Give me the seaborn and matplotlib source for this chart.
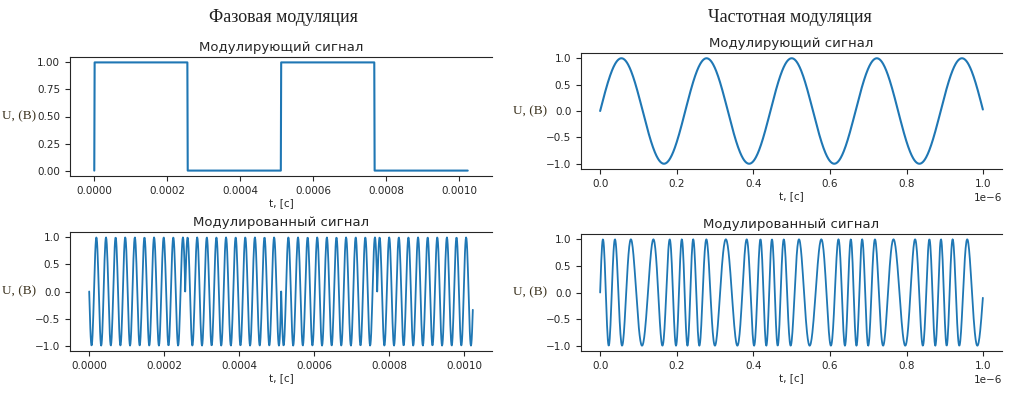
import numpy as np
import matplotlib
matplotlib.use("Agg")
import matplotlib.pyplot as plt
import seaborn as sns

# === Параметры фазовой модуляции ===
fs_pm = 1e6              # частота дискретизации, Гц
bit_len = 256            # отсчётов на бит
bits = [1, 0, 1, 0]      # модулирующая последовательность
f_carrier_pm = 39e3      # несущая, Гц

# === Параметры частотной модуляции ===
fs_fm = 1e9
n_fm = 1000
f_mod_fm = 4.5e6         # модулирующий сигнал, Гц
f_carrier_fm = 25e6      # несущая, Гц
beta_fm = 2.0            # индекс модуляции

# === Сигналы ===
t_pm = np.arange(len(bits) * bit_len) / fs_pm
tau_pm = np.tile(np.arange(bit_len) / fs_pm, len(bits))
m_pm = np.repeat(bits, bit_len).astype(float) * (t_pm > 0)
s_pm = np.sin(2 * np.pi * f_carrier_pm * tau_pm + np.pi * m_pm)

t_fm = np.arange(n_fm) / fs_fm
m_fm = np.sin(2 * np.pi * f_mod_fm * t_fm)
s_fm = np.sin(2 * np.pi * f_carrier_fm * t_fm + beta_fm * m_fm)

# === Оформление ===
sns.set_style("ticks")
plt.rcParams['font.family'] = ['DejaVu Sans']
plt.rcParams['xtick.labelsize'] = 7.5
plt.rcParams['ytick.labelsize'] = 7.5
plt.rcParams['axes.titlesize'] = 9.5
plt.rcParams['axes.labelsize'] = 7.5

blue = '#1f77b4'
label_color = '#3d3420'
serif = ['Liberation Serif', 'DejaVu Serif']

fig = plt.figure(figsize=(10.24, 3.98), dpi=100)

W, H = 1024, 398
def box(x0, x1, y0, y1):
    return [x0 / W, 1 - y1 / H, (x1 - x0) / W, (y1 - y0) / H]

ax_pm_m = fig.add_axes(box(70, 492, 57, 176))
ax_pm_s = fig.add_axes(box(70, 492, 232, 351))
ax_fm_m = fig.add_axes(box(581, 1002, 53, 169))
ax_fm_s = fig.add_axes(box(581, 1002, 234, 351))

sns.lineplot(x=t_pm, y=m_pm, ax=ax_pm_m, color=blue, linewidth=1.5)
sns.lineplot(x=t_pm, y=s_pm, ax=ax_pm_s, color=blue, linewidth=1.3)
sns.lineplot(x=t_fm, y=m_fm, ax=ax_fm_m, color=blue, linewidth=1.5)
sns.lineplot(x=t_fm, y=s_fm, ax=ax_fm_s, color=blue, linewidth=1.3)

ax_pm_m.margins(x=0.065)
ax_pm_m.set_yticks([0, 0.25, 0.5, 0.75, 1.0])
for ax in (ax_pm_s, ax_fm_m, ax_fm_s):
    ax.set_yticks([-1.0, -0.5, 0.0, 0.5, 1.0])

titles = ["Модулирующий сигнал", "Модулированный сигнал",
          "Модулирующий сигнал", "Модулированный сигнал"]
for ax, title in zip((ax_pm_m, ax_pm_s, ax_fm_m, ax_fm_s), titles):
    ax.set_title(title, pad=4)
    ax.set_xlabel("t, [с]", labelpad=2)
    ax.set_ylabel("U, (В)", rotation=0, family=serif, fontsize=9.5,
                  color=label_color, va='center')
    ax.yaxis.set_label_coords(-0.12, 0.5)
    ax.spines['right'].set_visible(False)
    ax.xaxis.get_offset_text().set_fontsize(7.5)

fig.text(283 / W, 1 - 18 / H, "Фазовая модуляция", family=serif,
         fontsize=13, ha='center', va='center', color='#222222')
fig.text(790 / W, 1 - 17 / H, "Частотная модуляция", family=serif,
         fontsize=13, ha='center', va='center', color='#222222')

fig.savefig("out.png", dpi=100)
